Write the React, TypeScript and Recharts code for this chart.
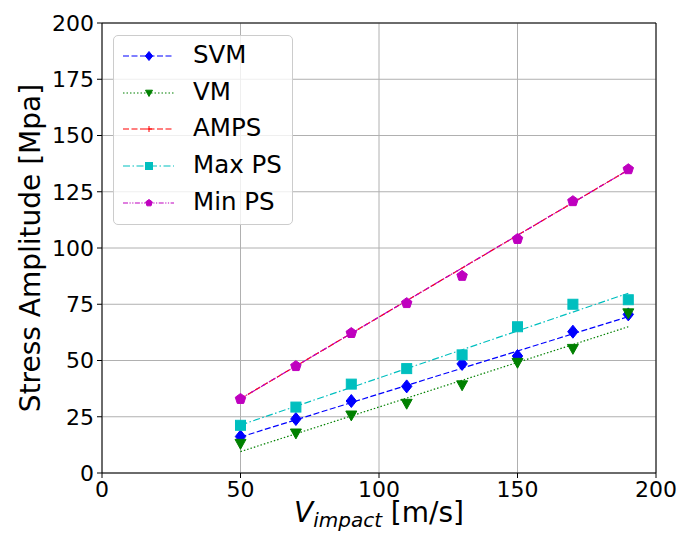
import React from 'react';
import {
  ComposedChart,
  Line,
  Scatter,
  XAxis,
  YAxis,
  CartesianGrid,
  ReferenceLine,
} from 'recharts';

const velocity = [50, 70, 90, 110, 130, 150, 170, 190];
const svm = [16.2, 24, 32, 38.5, 48.5, 52, 62.8, 70.5];
const vm = [13, 17.6, 25.6, 30.8, 39, 49, 55.2, 71];
const amps = [33, 47.5, 62.2, 75.5, 87.6, 104, 120.8, 135];
const maxPs = [21.2, 29.3, 39.5, 46.4, 52.5, 65, 75, 77];
const minPs = [32.9, 47.5, 62.2, 75.5, 87.6, 104, 120.8, 135];

// end points of the linear fits
const fitX = [50, 190];
const svmFit = [16, 69.5];
const vmFit = [9.5, 65];
const ampsFit = [33, 134.7];
const maxPsFit = [21.3, 79.9];
const minPsFit = [33, 134.7];

const xTicks = [0, 50, 100, 150, 200];
const yTicks = [0, 25, 50, 75, 100, 125, 150, 175, 200];

const FONT = '"DejaVu Sans", sans-serif';

type Marker = 'diamond' | 'tri' | 'plus' | 'square' | 'pentagon';

function drawMarker(kind: Marker, cx: number, cy: number, color: string, s: number) {
  switch (kind) {
    case 'diamond':
      return (
        <polygon
          points={`${cx},${cy - s} ${cx + s * 0.8},${cy} ${cx},${cy + s} ${cx - s * 0.8},${cy}`}
          fill={color}
          stroke={color}
        />
      );
    case 'tri':
      return (
        <polygon
          points={`${cx - s},${cy - s * 0.8} ${cx + s},${cy - s * 0.8} ${cx},${cy + s}`}
          fill={color}
          stroke={color}
        />
      );
    case 'plus':
      return (
        <path
          d={`M${cx - s},${cy}H${cx + s}M${cx},${cy - s}V${cy + s}`}
          stroke={color}
          strokeWidth={1}
        />
      );
    case 'square':
      return <rect x={cx - s} y={cy - s} width={s * 2} height={s * 2} fill={color} stroke={color} />;
    case 'pentagon': {
      const pts = [0, 1, 2, 3, 4]
        .map((i) => {
          const a = -Math.PI / 2 + (i * 2 * Math.PI) / 5;
          return `${cx + s * Math.cos(a)},${cy + s * Math.sin(a)}`;
        })
        .join(' ');
      return <polygon points={pts} fill={color} stroke={color} />;
    }
  }
}

const series = [
  { name: 'SVM', values: svm, fit: svmFit, color: '#0000ff', dash: '6 2.5', marker: 'diamond' as Marker, size: 6.5, legendSize: 4.5 },
  { name: 'VM', values: vm, fit: vmFit, color: '#008000', dash: '1.5 2', marker: 'tri' as Marker, size: 5.5, legendSize: 3.5 },
  { name: 'AMPS', values: amps, fit: ampsFit, color: '#ff0000', dash: '6 2.5', marker: 'plus' as Marker, size: 3, legendSize: 3 },
  { name: 'Max PS', values: maxPs, fit: maxPsFit, color: '#00bfbf', dash: '7 2.5 1.5 2.5', marker: 'square' as Marker, size: 5, legendSize: 3.5 },
  { name: 'Min PS', values: minPs, fit: minPsFit, color: '#bf00bf', dash: '5 1.5 1.2 1.5 1.2 1.5', marker: 'pentagon' as Marker, size: 5.5, legendSize: 3.5 },
];

function Legend() {
  return (
    <div
      style={{
        position: 'absolute',
        left: 113,
        top: 35,
        width: 178,
        height: 188,
        border: '1px solid #cccccc',
        borderRadius: 5,
        background: 'rgba(255,255,255,0.8)',
        fontFamily: FONT,
        fontSize: 24.5,
      }}
    >
      {series.map((s, i) => (
        <div
          key={s.name}
          style={{ position: 'absolute', left: 0, top: 20 + i * 36.7 - 18, height: 36, width: 178 }}
        >
          <svg width={70} height={36} style={{ position: 'absolute', left: 0, top: 0 }}>
            <line x1={9} x2={60} y1={18} y2={18} stroke={s.color} strokeWidth={1.2} strokeDasharray={s.dash} />
            {drawMarker(s.marker, 35, 18, s.color, s.legendSize)}
          </svg>
          <span style={{ position: 'absolute', left: 79, top: 3, lineHeight: '28px', color: '#000' }}>
            {s.name}
          </span>
        </div>
      ))}
    </div>
  );
}

export default function App() {
  return (
    <div style={{ position: 'absolute', left: 0, top: 0, width: 681, height: 535, background: '#fff' }}>
      <ComposedChart
        width={681}
        height={535}
        margin={{ top: 23, right: 25, left: 0, bottom: 0 }}
        style={{ fontFamily: FONT }}
      >
        <CartesianGrid stroke="#b0b0b0" strokeWidth={1} horizontalValues={yTicks} verticalValues={xTicks} />
        <XAxis
          type="number"
          dataKey="x"
          domain={[0, 200]}
          ticks={xTicks}
          allowDataOverflow
          height={62}
          stroke="#000"
          tickSize={5}
          tick={{ fill: '#000', fontSize: 22 }}
          tickMargin={3}
          label={{
            content: ({ viewBox }: any) => (
              <text
                x={viewBox.x + viewBox.width / 2}
                y={viewBox.y + 49}
                textAnchor="middle"
                fontFamily={FONT}
                fontSize={28}
                fill="#000"
              >
                <tspan fontStyle="italic">V</tspan>
                <tspan fontStyle="italic" fontSize={20} dy={5}>impact</tspan>
                <tspan dy={-5}> [m/s]</tspan>
              </text>
            ),
          }}
        />
        <YAxis
          type="number"
          dataKey="y"
          domain={[0, 200]}
          ticks={yTicks}
          allowDataOverflow
          width={102}
          stroke="#000"
          tickSize={5}
          tick={{ fill: '#000', fontSize: 22 }}
          tickMargin={3}
          label={{
            content: () => (
              <text
                x={30}
                y={248}
                transform="rotate(-90 30 248)"
                textAnchor="middle"
                dominantBaseline="central"
                fontFamily={FONT}
                fontSize={28}
                fill="#000"
              >
                Stress Amplitude [Mpa]
              </text>
            ),
          }}
        />
        <ReferenceLine x={200} stroke="#000" strokeWidth={1} />
        <ReferenceLine y={200} stroke="#000" strokeWidth={1} />
        {series.map((s) => (
          <Line
            key={`fit-${s.name}`}
            data={fitX.map((x, i) => ({ x, y: s.fit[i] }))}
            dataKey="y"
            stroke={s.color}
            strokeWidth={1.2}
            strokeDasharray={s.dash}
            dot={false}
            activeDot={false}
            isAnimationActive={false}
            legendType="none"
          />
        ))}
        {series.map((s) => (
          <Scatter
            key={`pts-${s.name}`}
            data={velocity.map((x, i) => ({ x, y: s.values[i] }))}
            dataKey="y"
            isAnimationActive={false}
            shape={(p: any) => drawMarker(s.marker, p.cx, p.cy, s.color, s.size) as any}
          />
        ))}
      </ComposedChart>
      <Legend />
    </div>
  );
}
